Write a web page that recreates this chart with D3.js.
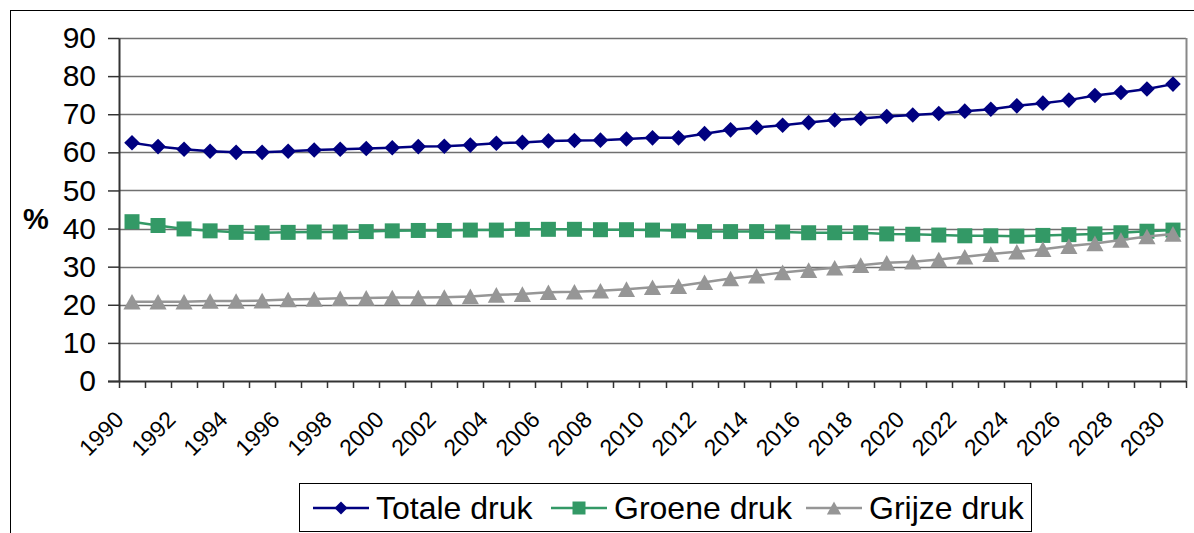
<!DOCTYPE html>
<html>
<head>
<meta charset="utf-8">
<script src="https://cdn.jsdelivr.net/npm/d3@7"></script>
<style>
  html, body { margin: 0; padding: 0; background: #fff; }
  svg { display: block; font-family: "Liberation Sans", Arial, sans-serif; }
</style>
</head>
<body>
<svg id="chart" width="1194" height="533"></svg>
<script>
const years = d3.range(1990, 2031);
const yTicks = [0, 10, 20, 30, 40, 50, 60, 70, 80, 90];
const xTickLabels = years.filter(y => (y - 1990) % 2 === 0);

const totale = [62.5, 61.5, 60.8, 60.3, 60.0, 60.0, 60.3, 60.6, 60.8, 61.0,
                61.2, 61.5, 61.6, 61.9, 62.4, 62.6, 63.0, 63.1, 63.2, 63.5,
                63.8, 63.8, 64.9, 65.9, 66.5, 67.1, 67.8, 68.5, 68.9, 69.4,
                69.8, 70.2, 70.8, 71.3, 72.2, 72.9, 73.7, 74.9, 75.7, 76.6, 77.9];
const groene = [41.8, 40.8, 39.9, 39.4, 39.0, 38.9, 39.0, 39.1, 39.1, 39.2,
                39.4, 39.5, 39.5, 39.6, 39.6, 39.8, 39.8, 39.8, 39.7, 39.7,
                39.6, 39.4, 39.2, 39.2, 39.2, 39.1, 38.9, 38.9, 38.9, 38.6,
                38.5, 38.3, 38.1, 38.1, 38.0, 38.2, 38.4, 38.6, 38.9, 39.3, 39.6];
const grijze = [20.8, 20.8, 20.8, 21.0, 21.0, 21.1, 21.4, 21.5, 21.7, 21.8,
                21.9, 21.9, 22.0, 22.2, 22.6, 22.8, 23.3, 23.4, 23.7, 24.1,
                24.6, 24.9, 25.9, 26.9, 27.6, 28.5, 29.1, 29.7, 30.4, 31.0,
                31.3, 31.9, 32.6, 33.3, 33.9, 34.6, 35.4, 36.1, 37.0, 37.9, 38.6];

const seriesNames = ["Totale druk", "Groene druk", "Grijze druk"];
const seriesColors = ["#000080", "#339966", "#969696"];
const seriesData = [totale, groene, grijze];

// marker shapes (bbox centred on the point)
function marker(kind, r) {
  if (kind === 0) return `M0,${-r}L${r},0L0,${r}L${-r},0Z`;
  if (kind === 1) return `M${-r},${-r}H${r}V${r}H${-r}Z`;
  return `M0,${-r}L${r * 1.1},${r}L${-r * 1.1},${r}Z`;
}
const markerR = [7.8, 7.5, 7.8];

const svg = d3.select("#chart");

// outer chart border
svg.append("rect").attr("x", 10.5).attr("y", 10.5).attr("width", 1300).attr("height", 700)
  .attr("fill", "none").attr("stroke", "#000").attr("stroke-width", 1);

const L = 119, R = 1186, T = 38, B = 381;
const x = d3.scaleBand().domain(years).range([L, R]);
const y = d3.scaleLinear().domain([0, 90]).range([B, T]);
const cx = v => x(v) + x.bandwidth() / 2;

// gridlines
svg.append("g").selectAll("line").data(yTicks.filter(v => v > 0)).join("line")
  .attr("x1", L).attr("x2", R)
  .attr("y1", d => Math.round(y(d)) + 0.5).attr("y2", d => Math.round(y(d)) + 0.5)
  .attr("stroke", "#707070").attr("stroke-width", 1.6);

// plot area right border
svg.append("line").attr("x1", R + 0.5).attr("x2", R + 0.5).attr("y1", T).attr("y2", B)
  .attr("stroke", "#888").attr("stroke-width", 2);

// y axis
const yAxis = d3.axisLeft(y).tickValues(yTicks).tickSize(11).tickPadding(12).tickSizeOuter(0);
const gy = svg.append("g").attr("transform", `translate(${L},0)`).call(yAxis);
gy.select(".domain").attr("stroke", "#333").attr("stroke-width", 2);
gy.selectAll(".tick line").attr("stroke", "#333").attr("stroke-width", 1.5);
gy.selectAll(".tick text").attr("font-size", 30).attr("fill", "#000")
  .attr("font-family", "'Liberation Sans', Arial, sans-serif");

// x axis line
svg.append("line").attr("x1", L - 11).attr("x2", R).attr("y1", B + 0.5).attr("y2", B + 0.5)
  .attr("stroke", "#333").attr("stroke-width", 2);
// x ticks at category boundaries
const bounds = years.map(v => x(v)).concat([x.range()[1]]);
svg.append("g").selectAll("line").data(bounds).join("line")
  .attr("x1", d => Math.round(d) + 0.5).attr("x2", d => Math.round(d) + 0.5)
  .attr("y1", B).attr("y2", B + 7)
  .attr("stroke", "#333").attr("stroke-width", 1.5);

// x labels
svg.append("g").selectAll("text").data(xTickLabels).join("text")
  .attr("transform", d => `translate(${cx(d) - 7},${B + 40}) rotate(-45)`)
  .attr("text-anchor", "end")
  .attr("font-size", 23)
  .attr("fill", "#000")
  .text(d => d);

// % label
svg.append("text").attr("x", 23).attr("y", 229).attr("font-size", 29).attr("font-weight", "bold")
  .text("%");

// series
const line = d3.line().x((d, i) => cx(years[i])).y(d => y(d));
seriesData.forEach((data, si) => {
  const g = svg.append("g");
  g.append("path").datum(data).attr("d", line)
    .attr("fill", "none").attr("stroke", seriesColors[si]).attr("stroke-width", 2.5);
  g.selectAll("path.m").data(data).join("path").attr("class", "m")
    .attr("transform", (d, i) => `translate(${cx(years[i])},${y(d)})`)
    .attr("d", marker(si, markerR[si]))
    .attr("fill", seriesColors[si]);
});

// legend
const lg = svg.append("g");
lg.append("rect").attr("x", 299.5).attr("y", 483.5).attr("width", 732).attr("height", 48)
  .attr("fill", "#fff").attr("stroke", "#000").attr("stroke-width", 1);
const legendX = [313, 551, 806];
seriesNames.forEach((name, si) => {
  const lx = legendX[si];
  lg.append("line").attr("x1", lx).attr("x2", lx + 56).attr("y1", 508).attr("y2", 508)
    .attr("stroke", seriesColors[si]).attr("stroke-width", 2.5);
  lg.append("path").attr("transform", `translate(${lx + 28},508)`)
    .attr("d", marker(si, 6.5))
    .attr("fill", seriesColors[si]);
  lg.append("text").attr("x", lx + 63).attr("y", 519).attr("font-size", 32)
    .attr("fill", "#000").text(name);
});
</script>
</body>
</html>
